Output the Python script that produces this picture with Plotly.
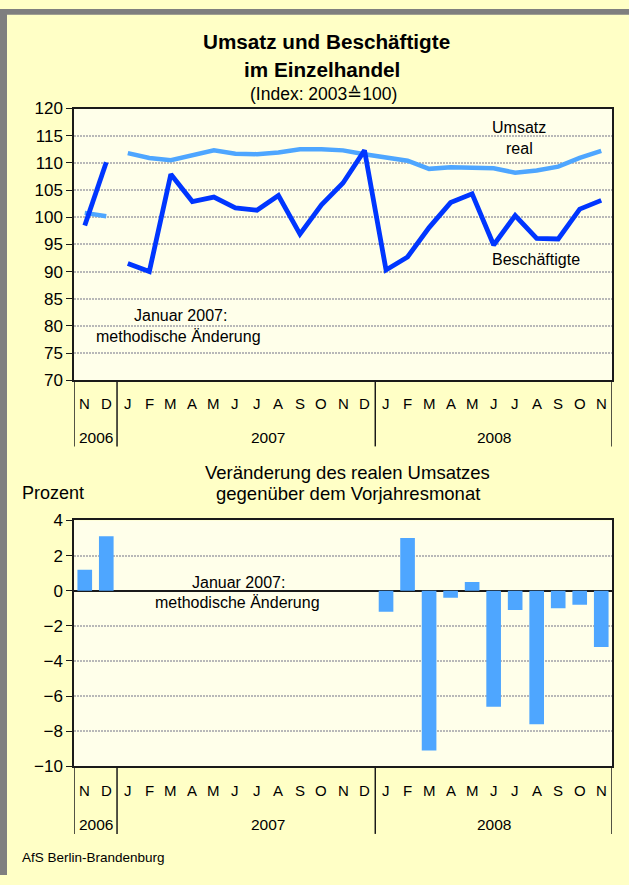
import plotly.graph_objects as go

W, H = 629, 885

# ---------------- data ----------------
months = ["2006-11", "2006-12",
          "2007-01", "2007-02", "2007-03", "2007-04", "2007-05", "2007-06",
          "2007-07", "2007-08", "2007-09", "2007-10", "2007-11", "2007-12",
          "2008-01", "2008-02", "2008-03", "2008-04", "2008-05", "2008-06",
          "2008-07", "2008-08", "2008-09", "2008-10", "2008-11"]
month_letters = ["N", "D",
                 "J", "F", "M", "A", "M", "J", "J", "A", "S", "O", "N", "D",
                 "J", "F", "M", "A", "M", "J", "J", "A", "S", "O", "N"]
years = ["2006", "2007", "2008"]
year_centers = ["2006-11", "2007-07", "2008-06"]   # label anchor categories
year_offsets = [0.5, 0.5, 0.0]

months_2006 = months[:2]
months_new = months[2:]

umsatz_2006 = [100.8, 100.2]
besch_2006 = [98.5, 110.1]
umsatz_new = [111.8, 110.9, 110.5, 111.5, 112.3, 111.7, 111.6, 111.9, 112.5, 112.5, 112.3, 111.6,
              111.1, 110.4, 108.9, 109.2, 109.1, 109.0, 108.2, 108.6, 109.3, 110.9, 112.2]
besch_new = [91.5, 90.0, 107.9, 102.9, 103.7, 101.7, 101.3, 104.0, 96.9, 102.3, 106.3, 112.3,
             90.3, 92.7, 98.1, 102.7, 104.3, 94.9, 100.3, 96.1, 96.0, 101.5, 103.1]

veraenderung = [1.2, 3.1,
                None, None, None, None, None, None, None, None, None, None, None, None,
                -1.2, 3.0, -9.1, -0.4, 0.5, -6.6, -1.1, -7.6, -1.0, -0.8, -3.2]

top_ticks = [70, 75, 80, 85, 90, 95, 100, 105, 110, 115, 120]
bot_ticks = [4, 2, 0, -2, -4, -6, -8, -10]

# ---------------- styles ----------------
FONT = "Liberation Sans, Arial, sans-serif"
OUTER = "#ffffc6"
PLOT = "#ffffea"
DARK = "#0036ff"
LIGHT = "#4ea6ff"
GRID = "#b8b8b8"


def X(px):
    return px / W


def Y(py):
    return 1 - py / H


L, R = 74, 612
T1, B1 = 101.7, 379.5
T2, B2 = 522.7, 774

fig = go.Figure()

fig.add_trace(go.Scatter(x=months_2006, y=umsatz_2006, mode="lines",
                         line=dict(color=LIGHT, width=4.5), xaxis="x", yaxis="y"))
fig.add_trace(go.Scatter(x=months_new, y=umsatz_new, mode="lines",
                         line=dict(color=LIGHT, width=4.5), xaxis="x", yaxis="y"))
fig.add_trace(go.Scatter(x=months_2006, y=besch_2006, mode="lines",
                         line=dict(color=DARK, width=4.8), xaxis="x", yaxis="y"))
fig.add_trace(go.Scatter(x=months_new, y=besch_new, mode="lines",
                         line=dict(color=DARK, width=4.8), xaxis="x", yaxis="y"))

fig.add_trace(go.Bar(x=months, y=veraenderung, marker=dict(color=LIGHT, line=dict(width=0)),
                     xaxis="x2", yaxis="y2"))

xcommon = dict(type="category", categoryorder="array", categoryarray=months,
               range=[-0.5, len(months) - 0.5], showgrid=False, showticklabels=False,
               ticks="", showline=True, linecolor="#1a1a1a", linewidth=1.5, mirror=True,
               zeroline=False, fixedrange=True)
ycommon = dict(showgrid=True, gridcolor=GRID, gridwidth=2, griddash="2px,1px",
               showline=True, linecolor="#1a1a1a", linewidth=1.5, mirror=True,
               ticks="outside", ticklen=6, tickcolor="#1a1a1a", tickwidth=1,
               tickfont=dict(family=FONT, size=17, color="black"))

fig.update_layout(
    width=W, height=H, margin=dict(l=0, r=0, t=0, b=0),
    paper_bgcolor=OUTER, plot_bgcolor=PLOT, showlegend=False, bargap=0.32,
    font=dict(family=FONT, color="black"),
    xaxis=dict(domain=[X(L), X(R)], anchor="y", **xcommon),
    yaxis=dict(domain=[Y(B1), Y(T1)], anchor="x", range=[70, 120],
               tickvals=top_ticks, zeroline=False, **ycommon),
    xaxis2=dict(domain=[X(L), X(R)], anchor="y2", **xcommon),
    yaxis2=dict(domain=[Y(B2), Y(T2)], anchor="x2", range=[-10, 4],
                tickvals=bot_ticks, zeroline=True, zerolinecolor="#1a1a1a",
                zerolinewidth=1.5, **ycommon),
)

shapes = []
# gray frame on top and left
shapes.append(dict(type="rect", xref="paper", yref="paper", x0=0, x1=X(7), y0=0, y1=1,
                   fillcolor="#7f7f7f", line=dict(width=0), layer="above"))
shapes.append(dict(type="rect", xref="paper", yref="paper", x0=0, x1=1, y0=Y(6), y1=1,
                   fillcolor="#7f7f7f", line=dict(width=0), layer="above"))
# category-group dividers below each chart
for xa, ybot, ytop in (("x", 447, B1), ("x2", 843, B2)):
    for xv in (-0.5, 1.5, 13.5, len(months) - 0.5):
        shapes.append(dict(type="line", xref=xa, yref="paper", x0=xv, x1=xv,
                           y0=Y(ybot), y1=Y(ytop), line=dict(color="#1a1a1a", width=1.5)))

ann = []


def txt(text, x, y, size, xref="paper", bold=False, xanchor="center"):
    ann.append(dict(text=f"<b>{text}</b>" if bold else text, x=x, y=y, xref=xref, yref="paper",
                    showarrow=False, xanchor=xanchor, yanchor="middle",
                    font=dict(family=FONT, size=size, color="black")))


# titles
txt("Umsatz und Beschäftigte", X(326), Y(33), 20.7, bold=True)
txt("im Einzelhandel", X(322), Y(62), 20.7, bold=True)
txt("(Index: 2003≙100)", X(323), Y(87), 17.5)

# series labels
txt("Umsatz", X(519), Y(121), 16)
txt("real", X(519), Y(143), 16)
txt("Beschäftigte", X(536), Y(256), 16)
txt("Januar 2007:", X(180), Y(313), 16)
txt("methodische Änderung", X(178), Y(335), 16)

# lower chart texts
txt("Veränderung des realen Umsatzes", X(348), Y(474), 18.5)
txt("gegenüber dem Vorjahresmonat", X(348), Y(495), 18.5)
txt("Prozent", X(53), Y(495), 18)
txt("Januar 2007:", X(238), Y(586), 16)
txt("methodische Änderung", X(237), Y(607), 16)

txt("AfS Berlin-Brandenburg", X(20), Y(867), 13.5, xanchor="left")

# month and year labels
for xa, ym, yy in (("x", 403, 438), ("x2", 799, 833)):
    for m, lt in zip(months, month_letters):
        ann.append(dict(text=lt, x=m, y=Y(ym), xref=xa, yref="paper", showarrow=False,
                        xanchor="center", yanchor="middle",
                        font=dict(family=FONT, size=15, color="black")))
    for yr, c, off in zip(years, year_centers, year_offsets):
        ann.append(dict(text=yr, x=months.index(c) + off, y=Y(yy), xref=xa, yref="paper",
                        showarrow=False, xanchor="center", yanchor="middle",
                        font=dict(family=FONT, size=15.5, color="black")))

fig.update_layout(shapes=shapes, annotations=ann)

post = ("document.documentElement.style.margin='0';"
        "document.documentElement.style.padding='0';"
        "document.documentElement.style.overflow='hidden';"
        "document.body.style.margin='0';document.body.style.padding='0';"
        "document.body.style.overflow='hidden';"
        "var d=document.getElementById('{plot_id}');"
        "d.style.position='fixed';d.style.left='0px';d.style.top='0px';")

fig.write_html("out.html", config={"displayModeBar": False}, post_script=post)
